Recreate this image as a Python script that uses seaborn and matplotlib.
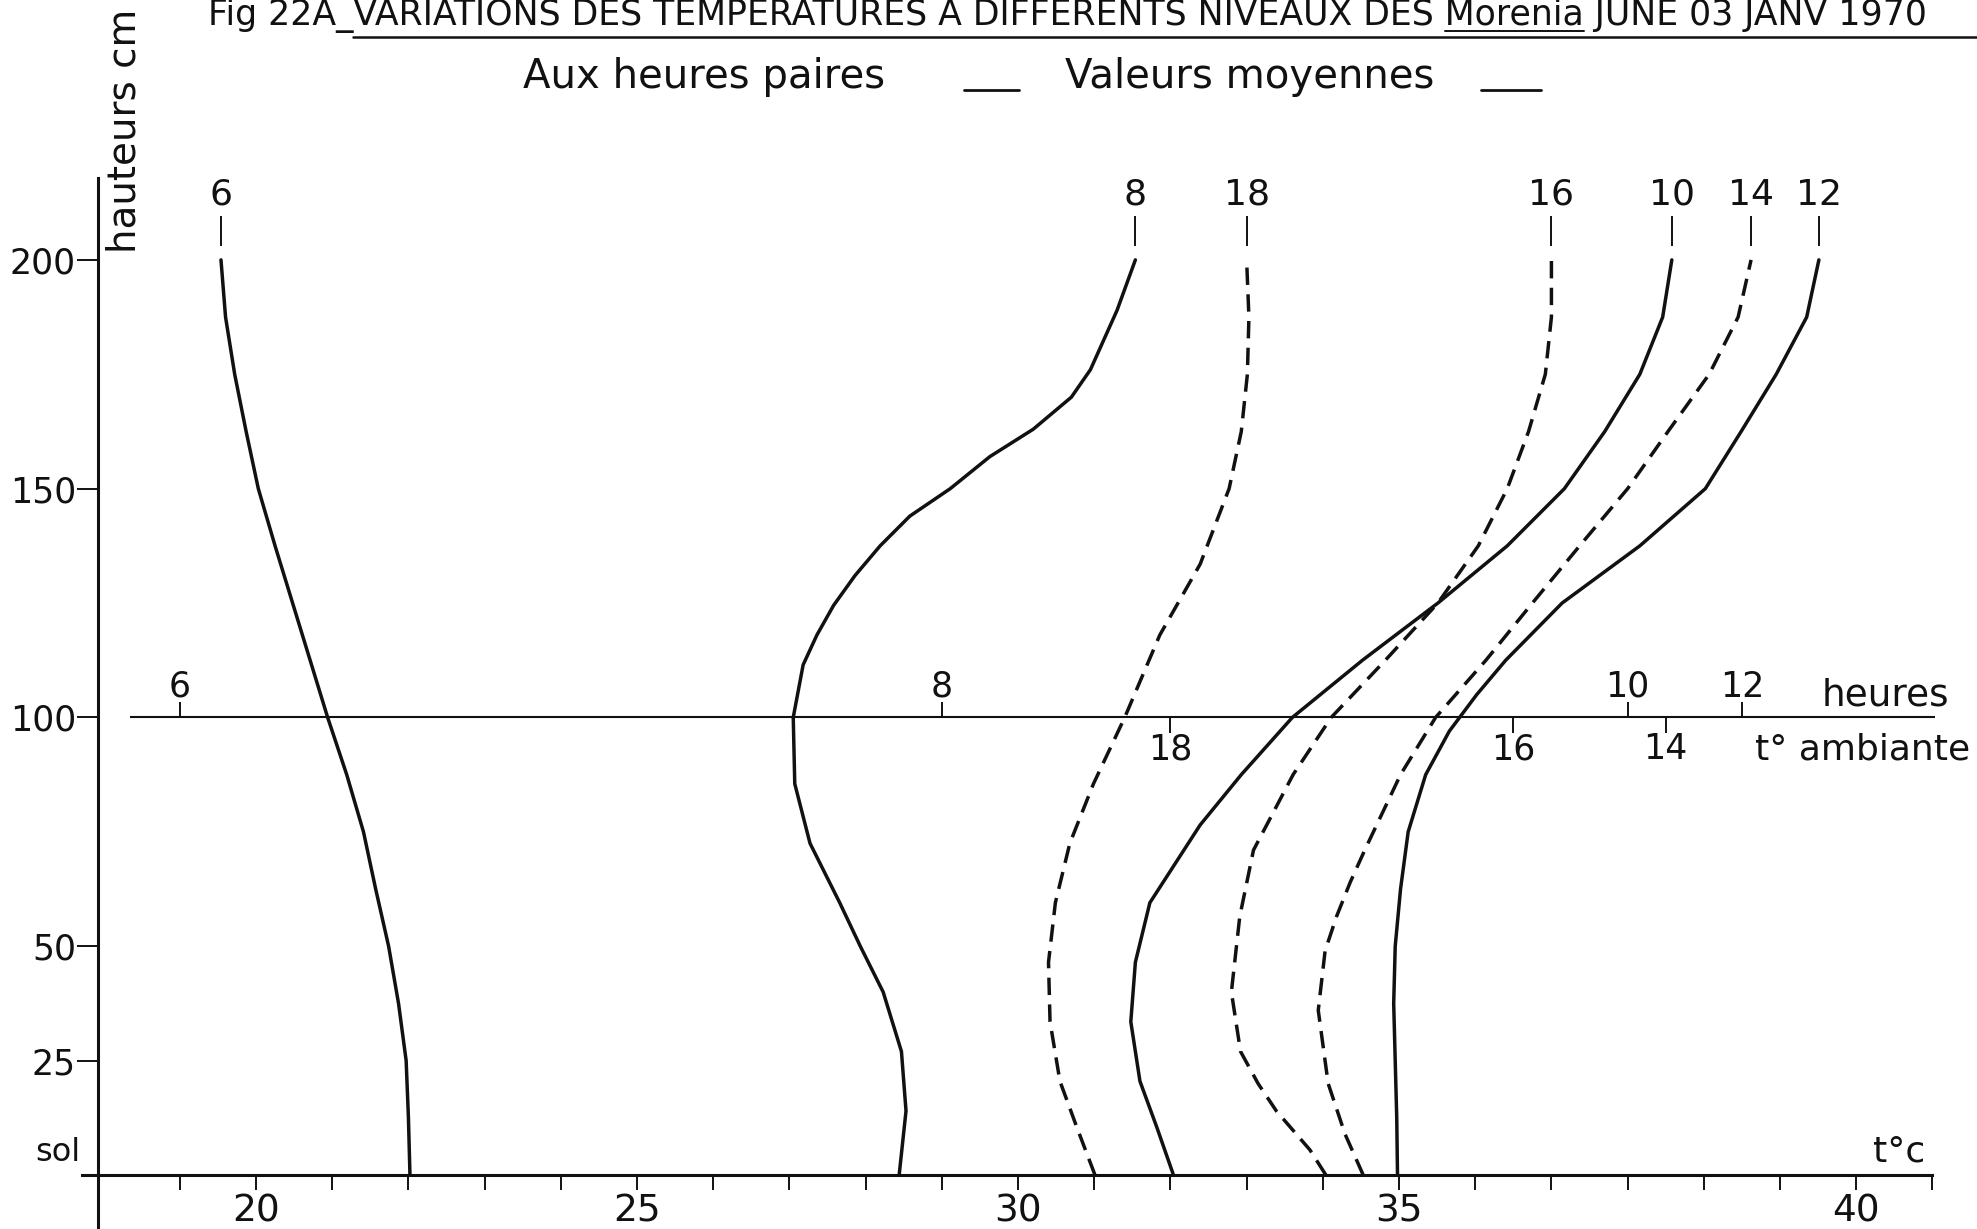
import matplotlib
matplotlib.use('Agg')
import matplotlib.pyplot as plt
from matplotlib.lines import Line2D
import pandas as pd
import seaborn as sns

# ---------------- data ----------------
# each profile: heights (cm) and air temperature (°C), ground to top
h_6h = [0, 12.5, 25, 37.5, 50, 62.5, 75, 87.5, 100, 112.5, 125, 137.5, 150, 162.5, 175, 187.5, 200]
t_6h = [22.02, 22.00, 21.97, 21.87, 21.74, 21.57, 21.41, 21.19, 20.94, 20.71, 20.48, 20.25, 20.03, 19.87, 19.72, 19.60, 19.54]

h_8h = [0, 14, 27, 40, 50, 59.5, 72.5, 85.5, 100, 111.5, 118, 124.5, 131, 137.5, 144, 150, 157, 163, 170, 176, 189, 200]
t_8h = [28.44, 28.53, 28.47, 28.23, 27.93, 27.66, 27.27, 27.07, 27.05, 27.18, 27.36, 27.58, 27.86, 28.19, 28.58, 29.11,
        29.63, 30.20, 30.70, 30.95, 31.30, 31.54]

h_10h = [0, 10.5, 20.5, 33.5, 46.5, 59.5, 76.5, 87.5, 100, 112.5, 125, 137.5, 150, 162.5, 175, 187.5, 200]
t_10h = [32.04, 31.82, 31.60, 31.48, 31.54, 31.73, 32.39, 32.93, 33.60, 34.52, 35.51, 36.42, 37.17, 37.70, 38.16, 38.46, 38.58]

h_12h = [0, 12.5, 25, 37.5, 50, 62.5, 75, 87.5, 97, 105, 112.5, 125, 137.5, 150, 162.5, 175, 187.5, 200]
t_12h = [34.98, 34.97, 34.95, 34.93, 34.95, 35.02, 35.12, 35.35, 35.66, 36.02, 36.40, 37.14, 38.16, 39.02, 39.49, 39.95,
         40.35, 40.51]

h_14h = [0, 9, 20, 36, 49, 56.5, 64, 71, 87.5, 100, 112.5, 125, 137.5, 150, 162.5, 175, 187.5, 200]
t_14h = [34.53, 34.29, 34.07, 33.94, 34.03, 34.18, 34.36, 34.55, 35.02, 35.48, 36.14, 36.75, 37.37, 38.00, 38.53, 39.07, 39.45, 39.62]

h_16h = [0, 5.5, 14, 20, 27, 40, 56.5, 71, 87.5, 100, 112.5, 125, 137.5, 150, 162.5, 175, 187.5, 200]
t_16h = [34.04, 33.83, 33.39, 33.15, 32.92, 32.80, 32.91, 33.09, 33.61, 34.11, 34.82, 35.51, 36.04, 36.42, 36.70, 36.92, 37.00, 37.00]

h_18h = [0, 10.5, 20.5, 33.5, 46.5, 59.5, 72.5, 85.5, 100, 118, 133.5, 150, 162.5, 175, 187.5, 200]
t_18h = [31.01, 30.77, 30.55, 30.42, 30.40, 30.49, 30.68, 30.99, 31.40, 31.86, 32.39, 32.77, 32.93, 33.01, 33.03, 33.00]

hours = [6, 8, 10, 12, 14, 16, 18]
profiles = [(h_6h, t_6h), (h_8h, t_8h), (h_10h, t_10h), (h_12h, t_12h),
            (h_14h, t_14h), (h_16h, t_16h), (h_18h, t_18h)]
dashed_hours = [14, 16, 18]

# ambient temperature at each hour (scale drawn on the 100 cm line)
amb_hours = [6, 8, 10, 12, 14, 16, 18]
amb_temp = [19.0, 29.0, 38.0, 39.5, 38.5, 36.5, 32.0]

# axis ticks as lettered on the original
x_major = [20, 25, 30, 35, 41]
x_major_labels = ['20', '25', '30', '35', '40']
x_minor = list(range(19, 43))
y_ticks = [25, 50, 100, 150, 200]
y_tick_labels = ['25', '50', '100', '150', '200']

title_head = "Fig 22A_"
title_mid = "VARIATIONS DES TEMPERATURES A DIFFERENTS NIVEAUX DES "
title_word = "Morenia"
title_tail = " JUNE 03 JANV 1970"

# ---------------- style ----------------
sns.set_theme(style='white')
plt.rcParams['font.family'] = ['DejaVu Sans']

W, H = 1977, 1229
fig = plt.figure(figsize=(W / 100, H / 100), dpi=100)
ax = fig.add_axes([0, 0, 1, 1])
ax.set_facecolor('white')
ax.set_xlim(16.64, 42.585)
ax.set_ylim(-11.8, 256.8)

ink = '#111111'

rows = []
for hr, (hs, ts) in zip(hours, profiles):
    for h, t in zip(hs, ts):
        rows.append({'hour': hr, 'height': h, 'temp': t})
df = pd.DataFrame(rows)

for hr in hours:
    sub = df[df['hour'] == hr]
    ls = (0, (5, 2.7)) if hr in dashed_hours else '-'
    sns.lineplot(data=sub, x='temp', y='height', orient='y', sort=False,
                 color=ink, linewidth=2.5, linestyle=ls, ax=ax)
    top = sub['temp'].iloc[-1]
    ax.vlines(top, 203, 209.5, color=ink, linewidth=1.4)
    ax.text(top, 210.5, str(hr), ha='center', va='bottom', fontsize=26, color=ink)
for ln in ax.lines:
    ln.set_solid_joinstyle('round')
    ln.set_solid_capstyle('round')

# axes lines
for s in ['top', 'right']:
    ax.spines[s].set_visible(False)
ax.spines['bottom'].set_position(('data', 0))
ax.spines['bottom'].set_bounds(17.72, 42.0)
ax.spines['left'].set_position(('data', 17.93))
ax.spines['left'].set_bounds(-11.8, 218)
for s in ['bottom', 'left']:
    ax.spines[s].set_color(ink)
    ax.spines[s].set_linewidth(2.2)

ax.set_xticks(x_major, labels=x_major_labels)
ax.set_xticks(x_minor, minor=True)
ax.set_yticks(y_ticks, labels=y_tick_labels)
ax.tick_params(axis='x', which='both', direction='out', length=11, width=1.4,
               colors=ink, pad=2, labelsize=27, bottom=True)
ax.tick_params(axis='y', which='both', direction='out', length=15, width=1.4,
               colors=ink, pad=1, labelsize=25, left=True)
ax.grid(False)
ax.set_xlabel('')
ax.set_ylabel('')

ax.text(17.40, 1.5, 'sol', ha='center', va='bottom', fontsize=23, color=ink)
ax.text(41.9, 1.5, 't°c', ha='right', va='bottom', fontsize=26, color=ink)
ax.text(18.28, 201.5, 'hauteurs cm', rotation=90, ha='center', va='bottom',
        fontsize=28, color=ink)

# hour / ambient temperature scale on the 100 cm line
ax.hlines(100, 18.35, 42.03, color=ink, linewidth=1.5)
for hr, t in zip(amb_hours, amb_temp):
    if hr <= 12:
        ax.vlines(t, 100, 103.3, color=ink, linewidth=1.4)
        ax.text(t, 103.0, str(hr), ha='center', va='bottom', fontsize=25, color=ink)
    else:
        ax.vlines(t, 96.7, 100, color=ink, linewidth=1.4)
        ax.text(t, 96.8, str(hr), ha='center', va='top', fontsize=25, color=ink)
ax.text(42.22, 100.8, 'heures', ha='right', va='bottom', fontsize=27, color=ink)
ax.text(42.5, 93.0, 't° ambiante', ha='right', va='center', fontsize=26, color=ink)

# title along the top edge of the scan, underlined from VARIATIONS on
title_size = 25
title_x = 208
title_base = 1 - 25 / H
renderer = fig.canvas.get_renderer()


def text_width(s):
    t = fig.text(0, 0.5, s, fontsize=title_size)
    w = t.get_window_extent(renderer).width
    t.remove()
    return w


fig.text(title_x / W, title_base, title_head + title_mid + title_word + title_tail,
         ha='left', va='baseline', fontsize=title_size, color=ink)
x_var = title_x + text_width(title_head)
x_word = title_x + text_width(title_head + title_mid)
x_word_end = x_word + text_width(title_word)
fig.add_artist(Line2D([x_var / W, 1.0], [1 - 37 / H, 1 - 37 / H], color=ink, linewidth=1.8))
fig.add_artist(Line2D([x_word / W, x_word_end / W], [1 - 31 / H, 1 - 31 / H],
                      color=ink, linewidth=1.4))

# legend line
fig.text(523 / W, 1 - 88 / H, 'Aux heures paires', ha='left', va='baseline',
         fontsize=29, color=ink)
fig.text(1065 / W, 1 - 88 / H, 'Valeurs moyennes', ha='left', va='baseline',
         fontsize=29, color=ink)
fig.add_artist(Line2D([964 / W, 1019 / W], [1 - 90 / H, 1 - 90 / H], color=ink, linewidth=2.0))
fig.add_artist(Line2D([1481 / W, 1541 / W], [1 - 90 / H, 1 - 90 / H], color=ink, linewidth=2.0))

fig.savefig('out.png', dpi=100, facecolor='white')
